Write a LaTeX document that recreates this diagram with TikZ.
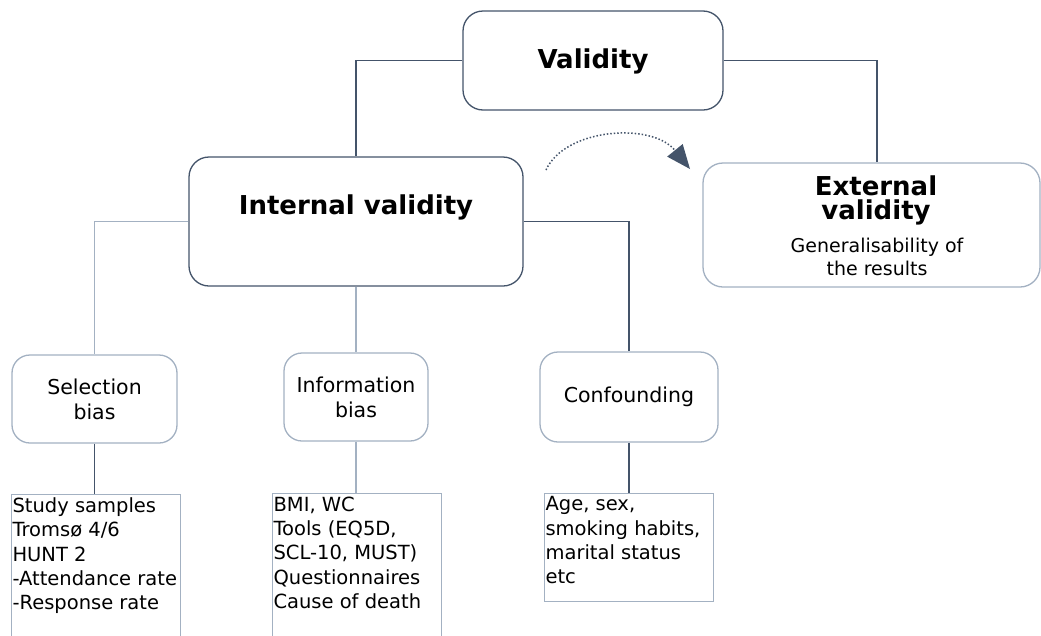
\documentclass[tikz,border=0pt]{standalone}
\usepackage{fontspec}
\setmainfont{DejaVu Sans}
\usetikzlibrary{arrows.meta}
\definecolor{dk}{HTML}{44546A}
\definecolor{lt}{HTML}{A3B1C2}
\newcommand{\listtext}[3]{\parbox[c][#1][t]{#2}{\raggedright\fontsize{19.5}{24.4}\selectfont #3}}
\tikzset{
  bigbox/.style={draw=dk, line width=1.3pt, rounded corners=20pt, fill=white},
  extbox/.style={draw=lt, line width=1.3pt, rounded corners=20pt, fill=white},
  smallbox/.style={draw=lt, line width=1.3pt, rounded corners=18pt, fill=white, align=center, font=\fontsize{20.5}{25}\selectfont},
  listbox/.style={draw=lt, line width=1.1pt, anchor=north west, inner xsep=1pt, inner ysep=3pt},
  dkline/.style={draw=dk, line width=1.3pt},
  ltline/.style={draw=lt, line width=1.3pt},
  title/.style={font=\fontsize{26}{24}\selectfont\bfseries},
  subtitle/.style={font=\fontsize{19}{23}\selectfont, anchor=base, inner sep=0pt},
}
\begin{document}
\begin{tikzpicture}[x=1pt,y=-1pt]
\useasboundingbox (0,0) rectangle (1041,635);
\clip (0,0) rectangle (1041,635);
% main boxes
\node[bigbox, minimum width=260pt, minimum height=99pt] (val) at (593,60.5) {};
\node[title] (valt) at (593,61) {Validity};
\node[bigbox, minimum width=334pt, minimum height=129pt] (int) at (356,221.5) {};
\node[title] (intt) at (356,207) {Internal validity};
\node[extbox, minimum width=337pt, minimum height=124pt] (ext) at (871.5,225) {};
\node[title, align=center, inner sep=0pt] (ext1) at (876,200.5) {External\\validity};
\node[subtitle] (ext3) at (877,252) {Generalisability of};
\node[subtitle] (ext4) at (877,275) {the results};
% small boxes
\node[smallbox, minimum width=165pt, minimum height=88pt] (sel) at (94.5,399) {Selection\\bias};
\node[smallbox, minimum width=144pt, minimum height=88pt] (info) at (356,397) {Information\\bias};
\node[smallbox, minimum width=178pt, minimum height=90pt] (conf) at (629,397) {Confounding};
% list boxes
\node[listbox] (study) at (11,494) {\listtext{160pt}{167pt}{Study samples\\Tromsø 4/6\\HUNT 2\\-Attendance rate\\-Response rate}};
\node[listbox] (bmi) at (272,493) {\listtext{160pt}{167pt}{BMI, WC\\Tools (EQ5D,\\SCL-10, MUST)\\Questionnaires\\Cause of death}};
\node[listbox] (age) at (544,493) {\listtext{102pt}{167pt}{Age, sex,\\smoking habits,\\marital status\\etc}};
% connectors
\draw[dkline] (val.west) -| (int.north);
\draw[dkline] (val.east) -| ([xshift=5.5pt]ext.north);
\draw[dkline] (int.east) -| (conf.north);
\draw[ltline] (int.west) -| (sel.north);
\draw[ltline] (int.south) -- (info.north);
\draw[dkline] (sel.south) -- (sel.south |- study.north);
\draw[ltline] (info.south) -- (info.south |- bmi.north);
\draw[dkline] (conf.south) -- (conf.south |- age.north);
% dotted arrow
\coordinate (a1) at (546,170);
\coordinate (a2) at (690,169);
\draw[draw=dk, line width=1.5pt, dotted, -{Triangle[length=24pt,width=20pt,fill=dk,line width=0pt]}] (a1) .. controls (565,128) and (652,122) .. (a2);
\end{tikzpicture}
\end{document}
